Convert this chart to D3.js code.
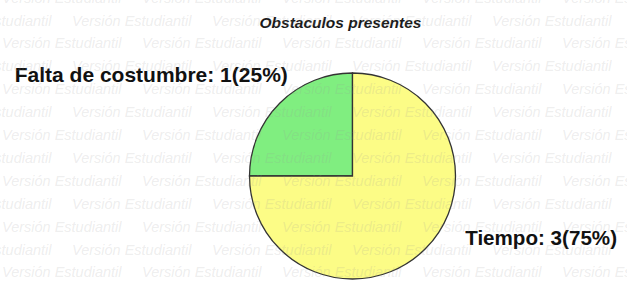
<!DOCTYPE html>
<html>
<head>
<meta charset="utf-8">
<script src="https://cdn.jsdelivr.net/npm/d3@7"></script>
<style>
  html, body { margin: 0; padding: 0; background: #fff; }
  text { font-family: "Liberation Sans", Arial, sans-serif; }
</style>
</head>
<body>
<div id="chart"></div>
<script>
// Chart data
var categories = ["Falta de costumbre", "Tiempo"];
var counts = [1, 3];
var colors = ["#80ee80", "#fcfc86"];
var title = "Obstaculos presentes";
var watermark = "Versión Estudiantil";

var width = 627, height = 287;
var cx = 352.5, cy = 176, radius = 103;

var svg = d3.select("#chart")
    .append("svg")
    .attr("width", width)
    .attr("height", height);

// Title
svg.append("text")
    .attr("x", 340.5)
    .attr("y", 28)
    .attr("text-anchor", "middle")
    .style("font-size", "15.5px")
    .style("font-weight", "bold")
    .style("font-style", "italic")
    .style("fill", "#1a1a1a")
    .text(title);

var total = d3.sum(counts);
var data = categories.map(function (c, i) { return { name: c, value: counts[i], color: colors[i] }; });

// Pie starts at 9 o'clock, going clockwise
var pie = d3.pie()
    .sort(null)
    .value(function (d) { return d.value; })
    .startAngle(-Math.PI / 2)
    .endAngle(3 * Math.PI / 2);

var arc = d3.arc().innerRadius(0).outerRadius(radius);
var labelArc = d3.arc().innerRadius(radius * 1.3).outerRadius(radius * 1.3);

var g = svg.append("g")
    .attr("transform", "translate(" + cx + "," + cy + ")");

var arcs = pie(data);

g.selectAll(".slice")
    .data(arcs)
    .enter()
    .append("path")
    .attr("class", "slice")
    .attr("d", arc)
    .attr("fill", function (d) { return d.data.color; })
    .attr("stroke", "#333")
    .attr("stroke-width", 1.3);

// Labels: small nudges from the label arc centroid
var nudges = [[30, 1], [18, -26]];
g.selectAll(".lbl")
    .data(arcs)
    .enter()
    .append("text")
    .attr("class", "lbl")
    .attr("transform", function (d, i) {
        var p = labelArc.centroid(d);
        return "translate(" + (p[0] + nudges[i][0]) + "," + (p[1] + nudges[i][1]) + ")";
    })
    .attr("text-anchor", function (d) {
        var mid = (d.startAngle + d.endAngle) / 2;
        return Math.sin(mid) < 0 ? "end" : "start";
    })
    .style("font-size", function (d, i) { return i === 0 ? "21px" : "20.6px"; })
    .style("font-weight", "bold")
    .style("fill", "#111")
    .text(function (d) {
        return d.data.name + ": " + d.data.value + "(" + Math.round(d.data.value / total * 100) + "%)";
    });

// Watermark over everything
var wm = svg.append("g")
    .style("pointer-events", "none");
d3.range(-1, 12).forEach(function (k) {
    var offset = (k % 2 === 0) ? 72 : 2;
    d3.range(-1, 5).forEach(function (j) {
        wm.append("text")
            .attr("x", offset + j * 140)
            .attr("y", 25.5 + k * 22.9)
            .style("font-size", "14.5px")
            .style("font-style", "italic")
            .style("fill", "#999")
            .style("fill-opacity", 0.18)
            .text(watermark);
    });
});
</script>
</body>
</html>
